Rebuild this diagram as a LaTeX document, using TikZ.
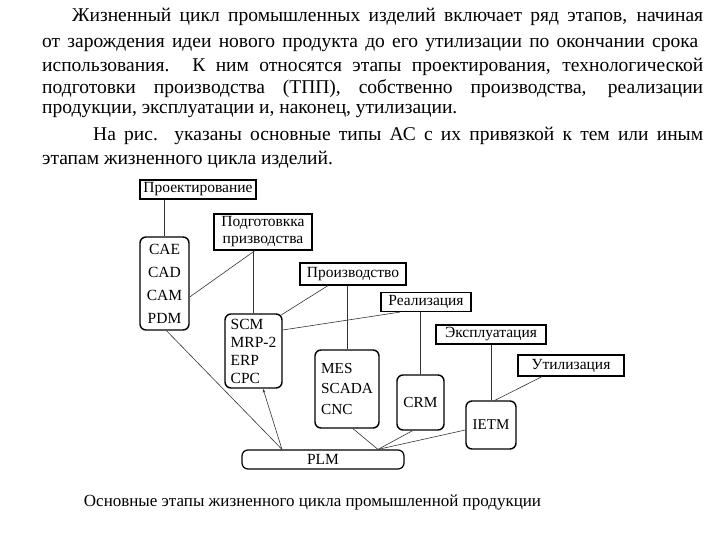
\documentclass[tikz,border=0pt]{standalone}
\usepackage{fontspec}
\setmainfont{Liberation Serif}
\usetikzlibrary{arrows.meta}
\tikzset{
  stage/.style={draw, line width=1.2pt, rectangle, inner sep=0pt, font=\fontsize{15.5}{17}\selectfont},
  sysbox/.style={draw, line width=1.4pt, rounded corners=6pt, inner sep=0pt},
  link/.style={draw, line width=0.6pt, black!80},
  para/.style={anchor=west, inner sep=0pt, font=\fontsize{19.5}{21}\selectfont},
}
\begin{document}
\begin{tikzpicture}[x=1pt,y=-1pt]
\useasboundingbox (0,0) rectangle (720,540);
% text
\node[para] (t1) at (72,17) {\makebox[631pt][s]{Жизненный цикл промышленных изделий включает ряд этапов, начиная}};
\node[para] (t2) at (42,45) {\makebox[656pt][s]{от зарождения идеи нового продукта до его утилизации по окончании срока}};
\node[para] (t3) at (42,67) {\makebox[661pt][s]{использования. К ним относятся этапы проектирования, технологической}};
\node[para] (t4) at (42,89) {\makebox[661pt][s]{подготовки производства (ТПП), собственно производства, реализации}};
\node[para] (t5) at (42,111) {продукции, эксплуатации и, наконец, утилизации.};
\node[para] (t6) at (93,136) {\makebox[610pt][s]{На рис. указаны основные типы АС с их привязкой к тем или иным}};
\node[para] (t7) at (42,160) {этапам жизненного цикла изделий.};
% stages
\node[stage, minimum width=116pt, minimum height=19pt] (proj) at (198,189.5) {Проектирование};
\node[stage, minimum width=98pt, minimum height=36pt, align=center] (prep) at (263,232) {Подготовкка\\призводства};
\node[stage, minimum width=106pt, minimum height=22pt] (prod) at (353,274) {Производство};
\node[stage, minimum width=90pt, minimum height=19pt] (real) at (426,302) {Реализация};
\node[stage, minimum width=110pt, minimum height=19pt] (expl) at (491,334.5) {Эксплуатация};
\node[stage, minimum width=106pt, minimum height=21pt] (util) at (571,365.5) {Утилизация};
% systems
\node[sysbox, minimum width=49pt, minimum height=93pt, align=center, font=\fontsize{15.5}{23}\selectfont] (cad) at (164.5,283.5) {CAE\\CAD\\CAM\\PDM};
\node[sysbox, minimum width=57pt, minimum height=74pt, align=left, font=\fontsize{15.5}{18}\selectfont] (scm) at (253.5,351) {SCM\\MRP-2\\ERP\\CPC};
\node[sysbox, minimum width=64pt, minimum height=78pt, align=left, font=\fontsize{15.3}{20.5}\selectfont] (mes) at (347,389) {MES\\SCADA\\CNC};
\node[sysbox, minimum width=47pt, minimum height=55pt, font=\fontsize{15.3}{18}\selectfont] (crm) at (420.5,402.5) {CRM};
\node[sysbox, minimum width=50pt, minimum height=48pt, font=\fontsize{15}{18}\selectfont] (ietm) at (491,425) {IETM};
\node[sysbox, line width=1.2pt, minimum width=162pt, minimum height=19pt, font=\fontsize{15.5}{17}\selectfont] (plm) at (323,459.5) {PLM};
\coordinate (pl) at ([xshift=-41pt]plm.north);
\coordinate (pr) at ([xshift=55pt]plm.north);
% connectors
\draw[link] (cad.north) -- (cad.north |- proj.south);
\draw[link] ([xshift=-8pt]prep.south) -- ([yshift=-13.5pt]cad.east);
\draw[link] (scm.north) -- (scm.north |- prep.south);
\draw[link] ([xshift=-25pt]prod.south) -- ([xshift=-2pt,yshift=-2pt]scm.north east);
\draw[link] (mes.north) -- (mes.north |- prod.south);
\draw[link] ([xshift=-26pt]real.south) -- ([yshift=21pt]scm.east);
\draw[link] (crm.north) -- (crm.north |- real.south);
\draw[link] (ietm.north) -- (ietm.north |- expl.south);
\draw[link] ([xshift=-29pt]util.south) -- ([xshift=4pt]ietm.north);
\draw[link] ([xshift=2pt]cad.south) -- (pl);
\draw[link, -{Stealth[length=4pt,width=2.5pt]}] (pl) -- ([xshift=9.5pt]scm.south);
\draw[link] ([xshift=6pt]mes.south) -- (pr);
\draw[link] ([xshift=-8pt]crm.south) -- (pr);
\draw[link] ([yshift=-5pt]ietm.west) -- (pr);
% caption
\node[font=\fontsize{17}{20}\selectfont, inner sep=0pt] (cap) at (312.5,503) {Основные этапы жизненного цикла промышленной продукции};
\end{tikzpicture}
\end{document}
